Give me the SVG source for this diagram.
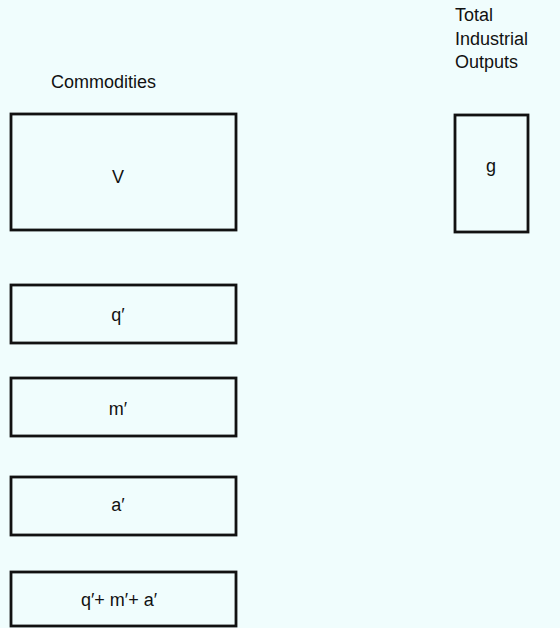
<svg xmlns="http://www.w3.org/2000/svg" width="560" height="628" viewBox="0 0 560 628">
  <style>
    .bg { fill: #f0fdfd; }
    .box { fill: none; stroke: #111; stroke-width: 2.8; }
    .lbl { font-family: "Liberation Sans", Arial, sans-serif; font-size: 18px; fill: #111; }
    .mid { text-anchor: middle; }
  </style>
  <rect class="bg" x="0" y="0" width="560" height="628"/>

  <!-- column headings -->
  <text id="head-commodities" class="lbl" x="51" y="88">Commodities</text>
  <g id="head-outputs">
    <text class="lbl" x="455" y="21">Total</text>
    <text class="lbl" x="455" y="45">Industrial</text>
    <text class="lbl" x="455" y="68">Outputs</text>
  </g>

  <!-- commodity blocks -->
  <g id="node-V">
    <rect class="box" x="11" y="114" width="225" height="116"/>
    <text class="lbl mid" x="118" y="183">V</text>
  </g>
  <g id="node-g">
    <rect class="box" x="455" y="115" width="73" height="117"/>
    <text class="lbl mid" x="491" y="172">g</text>
  </g>
  <g id="node-q">
    <rect class="box" x="11" y="285" width="225" height="58"/>
    <text class="lbl mid" x="118" y="321">q′</text>
  </g>
  <g id="node-m">
    <rect class="box" x="11" y="378" width="225" height="58"/>
    <text class="lbl mid" x="118" y="415">m′</text>
  </g>
  <g id="node-a">
    <rect class="box" x="11" y="477" width="225" height="58"/>
    <text class="lbl mid" x="118" y="511">a′</text>
  </g>
  <g id="node-sum">
    <rect class="box" x="11" y="572" width="225" height="54"/>
    <text class="lbl mid" x="119" y="606">q′+ m′+ a′</text>
  </g>

  <g id="connectors"></g>
</svg>
